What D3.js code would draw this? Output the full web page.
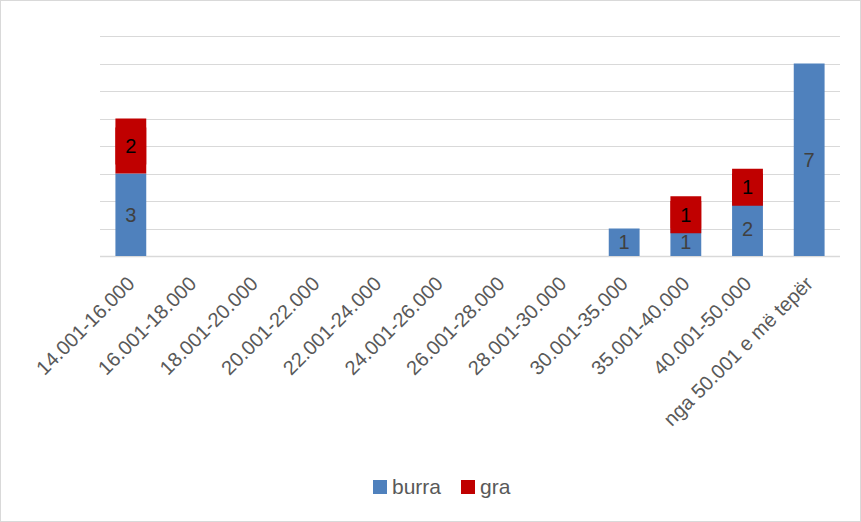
<!DOCTYPE html>
<html>
<head>
<meta charset="utf-8">
<script src="https://cdn.jsdelivr.net/npm/d3@7"></script>
<style>
  body { margin: 0; background: #fff; }
  text { font-family: "Liberation Sans", Arial, sans-serif; }
</style>
</head>
<body>
<svg class="chart" width="861" height="522"></svg>
<script>
var categories = ["14.001-16.000", "16.001-18.000", "18.001-20.000", "20.001-22.000",
    "22.001-24.000", "24.001-26.000", "26.001-28.000", "28.001-30.000",
    "30.001-35.000", "35.001-40.000", "40.001-50.000", "nga 50.001 e më tepër"];
var burra = [3, 0, 0, 0, 0, 0, 0, 0, 1, 1, 2, 7];
var gra = [2, 0, 0, 0, 0, 0, 0, 0, 0, 1, 1, 0];
var seriesNames = ["burra", "gra"];
var colors = ["#4f81bd", "#c00000"];
var yTicks = [0, 1, 2, 3, 4, 5, 6, 7, 8];

var svg = d3.select(".chart");
var W = +svg.attr("width"), H = +svg.attr("height");
var margin = {top: 36, right: 21, bottom: 266, left: 100};
var w = W - margin.left - margin.right;
var h = H - margin.top - margin.bottom;

// chart border
svg.append("rect")
    .attr("x", 0.5).attr("y", 0.5)
    .attr("width", W - 1).attr("height", H - 1)
    .attr("fill", "#fff").attr("stroke", "#d9d9d9");

var g = svg.append("g").attr("transform", "translate(" + margin.left + "," + margin.top + ")");

var dataset = categories.map(function (c, i) {
    return {cat: c, burra: burra[i], gra: gra[i]};
});

var xScale = d3.scaleBand().domain(categories).range([0, w])
    .paddingInner(0.5).paddingOuter(0.25);
var yScale = d3.scaleLinear().domain([0, 8]).range([h, 0]);

// gridlines
g.selectAll(".grid")
    .data(yTicks)
    .enter()
    .append("line")
    .attr("x1", 0).attr("x2", w)
    .attr("y1", function (d) { return Math.round(yScale(d)) + 0.5; })
    .attr("y2", function (d) { return Math.round(yScale(d)) + 0.5; })
    .attr("stroke", "#d9d9d9")
    .attr("stroke-width", function (d) { return d === 0 ? 1.5 : 1.2; });

var stack = d3.stack().keys(seriesNames);
var stackedData = stack(dataset);

var groups = g.selectAll(".series")
    .data(stackedData)
    .enter()
    .append("g")
    .style("fill", function (d, i) { return colors[i]; });

groups.selectAll("rect")
    .data(function (d) { return d; })
    .enter()
    .append("rect")
    .attr("x", function (d) { return xScale(d.data.cat); })
    .attr("y", function (d) { return yScale(d[1]); })
    .attr("height", function (d) { return yScale(d[0]) - yScale(d[1]); })
    .attr("width", xScale.bandwidth());

// data labels
stackedData.forEach(function (series, si) {
    var pts = series.filter(function (d) { return d[1] - d[0] > 0; });
    var lab = g.selectAll(".lab" + si)
        .data(pts)
        .enter()
        .append("g")
        .attr("transform", function (d) {
            return "translate(" + (xScale(d.data.cat) + xScale.bandwidth() / 2) + "," +
                yScale((d[0] + d[1]) / 2) + ")";
        });
    if (si === 1) {
        // filled label box, as in the original
        lab.append("rect")
            .attr("x", -xScale.bandwidth() / 2)
            .attr("y", -18.5)
            .attr("width", xScale.bandwidth())
            .attr("height", 37)
            .attr("fill", colors[1]);
    }
    lab.append("text")
        .attr("text-anchor", "middle")
        .attr("dy", "0.36em")
        .style("font-size", "20px")
        .style("fill", si === 1 ? "#000" : "#404040")
        .text(function (d) { return d[1] - d[0]; });
});

// x labels
g.selectAll(".xlab")
    .data(categories)
    .enter()
    .append("text")
    .attr("transform", function (d) {
        return "translate(" + (xScale(d) + xScale.bandwidth() / 2 + 5) + "," + (h + 29) + ") rotate(-45)";
    })
    .attr("text-anchor", "end")
    .style("font-size", "20px")
    .style("fill", "#595959")
    .text(function (d) { return d; });

// legend
var legend = svg.append("g").attr("transform", "translate(373,480)");
var lx = [0, 88];
seriesNames.forEach(function (s, i) {
    legend.append("rect")
        .attr("x", lx[i]).attr("y", 0)
        .attr("width", 14).attr("height", 14)
        .attr("fill", colors[i]);
    legend.append("text")
        .attr("x", lx[i] + 19).attr("y", 7)
        .attr("dy", "0.35em")
        .style("font-size", "21px")
        .style("fill", "#595959")
        .text(s);
});
</script>
</body>
</html>
